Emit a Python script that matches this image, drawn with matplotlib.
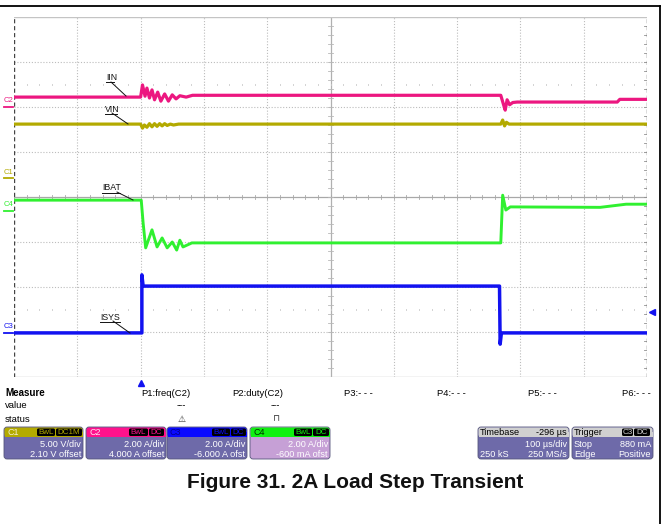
import matplotlib
matplotlib.use("Agg")
import matplotlib.pyplot as plt
from matplotlib.patches import FancyBboxPatch, Rectangle
import numpy as np

W, H = 666, 524

# ---------------- data: time in µs (100 µs/div), level in screen divisions ----------------
iin_t = [0, 200, 203, 207, 210, 214, 218, 222, 227, 232, 238, 244, 250, 256, 262, 272, 282,
         769, 773, 776, 779, 783, 788, 795, 953, 957, 1000]
iin_y = [6.22, 6.22, 6.49, 6.24, 6.42, 6.20, 6.38, 6.16, 6.33, 6.13, 6.29, 6.13, 6.27, 6.18, 6.25, 6.22, 6.26,
         6.26, 6.07, 5.93, 6.16, 6.05, 6.10, 6.11, 6.11, 6.17, 6.17]

vin_t = [0, 200, 203, 206, 210, 214, 218, 222, 226, 230, 234, 238, 242, 247, 252, 260,
         769, 772, 775, 778, 782, 1000]
vin_y = [5.62, 5.62, 5.53, 5.60, 5.55, 5.63, 5.56, 5.63, 5.57, 5.63, 5.58, 5.63, 5.59, 5.62, 5.60, 5.62,
         5.62, 5.71, 5.58, 5.66, 5.62, 5.62]

ibat_t = [0, 201, 204, 208, 218, 226, 234, 242, 250, 257, 262, 267, 281,
          769, 772, 777, 784, 926, 967, 1000]
ibat_y = [3.93, 3.93, 3.42, 2.87, 3.27, 2.89, 3.09, 2.87, 3.00, 2.82, 3.04, 2.89, 2.98,
          2.98, 4.04, 3.71, 3.78, 3.77, 3.84, 3.84]

isys_t = [0, 202, 202, 204, 767, 768, 770, 1000]
isys_y = [0.98, 0.98, 2.27, 2.02, 2.02, 0.73, 0.98, 0.98]

# channel settings panel
ch_names = ["C1", "C2", "C3", "C4"]
ch_coupling = ["DC1M", "DC", "DC", "DC"]
ch_scale = ["5.00 V/div", "2.00 A/div", "2.00 A/div", "2.00 A/div"]
ch_offset = ["2.10 V offset", "4.000 A offset", "-6.000 A ofst", "-600 mA ofst"]
meas_labels = ["P1:freq(C2)", "P2:duty(C2)", "P3:- - -", "P4:- - -", "P5:- - -", "P6:- - -"]

PINK = "#ec1780"
OLIVE = "#b3aa00"
GREEN = "#30f030"
BLUE = "#1212f0"
BODY = "#6e6aa9"
C4BODY = "#c6a0d6"
FONT = "Liberation Sans"

fig = plt.figure(figsize=(W / 100, H / 100), dpi=100)
PL, PT, PR, PB = 14, 17, 647, 377
ax = fig.add_axes([PL / W, 1 - PB / H, (PR - PL) / W, (PB - PT) / H])
ax.set_xlim(0, 1000)
ax.set_ylim(0, 8)
ax.axis("off")

# graticule
gcol = "#bcbcbc"
for x in range(100, 1000, 100):
    if x == 500:
        ax.plot([x, x], [0, 8], color="#b0b0b0", lw=0.9, zorder=1)
    else:
        ax.plot([x, x], [0, 8], color=gcol, lw=0.8, ls=(0, (1, 1.6)), zorder=1)
for y in range(1, 8):
    if y == 4:
        ax.plot([0, 1000], [y, y], color="#a8a8a8", lw=0.9, zorder=1)
    else:
        ax.plot([0, 1000], [y, y], color=gcol, lw=0.8, ls=(0, (1, 1.6)), zorder=1)
for t in range(0, 1001, 20):
    ax.plot([t, t], [4 - 0.05, 4 + 0.05], color="#a8a8a8", lw=0.6, zorder=1)
    ax.plot([t, t], [6.48, 6.52], color="#c8c8c8", lw=0.6, zorder=1)
    ax.plot([t, t], [1.48, 1.52], color="#c8c8c8", lw=0.6, zorder=1)
for y in np.arange(0, 8.01, 0.2):
    ax.plot([500 - 4, 500 + 4], [y, y], color="#b8b8b8", lw=0.6, zorder=1)
    ax.plot([1000 - 5, 1000], [y, y], color="#909090", lw=0.6, zorder=1)
ax.plot([0, 1000], [8, 8], color="#c4c4c4", lw=1.0, zorder=1)
ax.plot([0, 1000], [0, 0], color="#c4c4c4", lw=1.0, zorder=1)
ax.plot([0, 0], [0, 8], color="#444444", lw=1.0, ls=(0, (3, 2)), zorder=1)
ax.plot([1000, 1000], [0, 8], color="#555555", lw=1.0, ls=(0, (3, 2)), zorder=1)

# traces
ax.plot(vin_t, vin_y, color=OLIVE, lw=2.3, zorder=3)
ax.plot(iin_t, iin_y, color=PINK, lw=2.3, zorder=3)
ax.plot(ibat_t, ibat_y, color=GREEN, lw=2.1, zorder=3)
ax.plot(isys_t, isys_y, color=BLUE, lw=2.5, zorder=3)

# overlay in pixel coordinates
ov = fig.add_axes([0, 0, 1, 1])
ov.set_xlim(0, W)
ov.set_ylim(H, 0)
ov.axis("off")
ov.patch.set_alpha(0)

ov.plot([0, 660], [6, 6], color="black", lw=1.3)
ov.plot([660, 660], [6, 524], color="black", lw=1.3)

# channel ground markers
for name, ty, ly, col in [("C2", 100, 107, PINK), ("C1", 172, 178, OLIVE),
                          ("C4", 205, 211, GREEN), ("C3", 326, 333, BLUE)]:
    ov.text(8, ty, name, color=col, fontsize=5.5, ha="center", va="center", family=FONT)
    ov.plot([4, 13], [ly, ly], color=col, lw=1.3)

# trace labels with leaders
for txt, x, y, ux2, lx1, ly1, lx2, ly2 in [("IIN", 106, 77, 114, 111, 82, 126, 96),
                                           ("VIN", 105, 109, 117, 112, 113, 128, 124),
                                           ("IBAT", 102, 188, 120, 117, 192, 133, 200),
                                           ("ISYS", 100, 317, 120, 113, 321, 130, 333)]:
    ov.text(x, y, txt, fontsize=6.3, ha="left", va="center", family=FONT, color="#111111")
    ov.plot([x, ux2], [y + 4.5, y + 4.5], color="#111111", lw=0.7)
    ov.plot([lx1, lx2], [ly1, ly2], color="#111111", lw=0.7)

# trigger markers
ov.plot([141], [382.5], marker="^", color=BLUE, markersize=4.5, clip_on=False)
ov.plot([652], [312], marker="<", color=BLUE, markersize=4.5, clip_on=False)

# measure rows
ov.text(5, 393, "Measure", fontsize=7, fontweight="bold", family=FONT, va="center")
ov.text(5, 406, "value", fontsize=6.8, family=FONT, va="center")
ov.text(5, 419, "status", fontsize=6.8, family=FONT, va="center")
for lab, x in zip(meas_labels, [141, 232, 344, 437, 528, 622]):
    ov.text(x, 393, lab, fontsize=6.8, family=FONT, va="center")
ov.text(186, 406, "---", fontsize=6.8, family=FONT, va="center", ha="right")
ov.text(280, 406, "---", fontsize=6.8, family=FONT, va="center", ha="right")
ov.text(182, 419, "\u26a0", fontsize=6.5, family="DejaVu Sans", va="center", ha="center", color="#333333")
ov.text(276, 419, "\u2293", fontsize=6.5, family="DejaVu Sans", va="center", ha="center", color="#333333")


def box(x0, x1, hcol, bcol):
    y0, y1 = 427, 459
    ov.add_patch(FancyBboxPatch((x0, y0), x1 - x0, y1 - y0,
                                boxstyle="round,pad=0,rounding_size=3",
                                fc=bcol, ec="#55557a", lw=0.6))
    ov.add_patch(FancyBboxPatch((x0 + 0.5, y0 + 0.5), x1 - x0 - 1, 9.5,
                                boxstyle="round,pad=0,rounding_size=2.5",
                                fc=hcol, ec="none"))
    ov.add_patch(Rectangle((x0 + 0.5, y0 + 5), x1 - x0 - 1, 5, fc=hcol, ec="none"))


def badge(x0, x1, txt, col):
    ov.add_patch(FancyBboxPatch((x0, 428.5), x1 - x0, 7.5,
                                boxstyle="round,pad=0,rounding_size=1.5",
                                fc="black", ec="none"))
    ov.text((x0 + x1) / 2, 432.5, txt, color=col, fontsize=5.8, family=FONT,
            ha="center", va="center")


ch_boxes = [(4, 83), (86, 166), (167, 247), (250, 330)]
ch_head = [OLIVE, "#ff128c", "#0a0aff", "#10f010"]
ch_body = [BODY, BODY, BODY, C4BODY]
ch_namecol = ["#f4f0d0", "#ffe0f0", "#000090", "#003000"]
ch_badges = [((37, 55), (56, 82)), ((129, 148), (149, 164)), ((212, 230), (231, 246)), ((294, 312), (313, 329))]
for i in range(4):
    x0, x1 = ch_boxes[i]
    box(x0, x1, ch_head[i], ch_body[i])
    ov.text(x0 + 3, 432.5, ch_names[i], color=ch_namecol[i], fontsize=6.5, family=FONT, va="center")
    (b1, b2) = ch_badges[i]
    badge(b1[0], b1[1], "BwL", ch_head[i])
    badge(b2[0], b2[1], ch_coupling[i], ch_head[i])
    ov.text(x1 - 2, 444.5, ch_scale[i], color="white", fontsize=6.6, family=FONT, va="center", ha="right")
    ov.text(x1 - 2, 454.5, ch_offset[i], color="white", fontsize=6.6, family=FONT, va="center", ha="right")

# timebase / trigger
box(478, 569, "#d0d0d0", BODY)
ov.text(480, 432.5, "Timebase", fontsize=6.6, family=FONT, va="center")
ov.text(567, 432.5, "-296 \u00b5s", fontsize=6.6, family=FONT, va="center", ha="right")
ov.text(567, 444.5, "100 \u00b5s/div", fontsize=6.6, family=FONT, va="center", ha="right", color="white")
ov.text(480, 454.5, "250 kS", fontsize=6.6, family=FONT, va="center", color="white")
ov.text(567, 454.5, "250 MS/s", fontsize=6.6, family=FONT, va="center", ha="right", color="white")

box(572, 653, "#d0d0d0", BODY)
ov.text(574, 432.5, "Trigger", fontsize=6.6, family=FONT, va="center")
badge(622, 633, "C3", "#d0d0d0")
badge(634, 650, "DC", "#d0d0d0")
ov.text(574, 444.5, "Stop", fontsize=6.6, family=FONT, va="center", color="white")
ov.text(651, 444.5, "880 mA", fontsize=6.6, family=FONT, va="center", ha="right", color="white")
ov.text(574, 454.5, "Edge", fontsize=6.6, family=FONT, va="center", color="white")
ov.text(651, 454.5, "Positive", fontsize=6.6, family=FONT, va="center", ha="right", color="white")

# caption
ov.text(355, 483, "Figure 31. 2A Load Step Transient", fontsize=15, fontweight="bold",
        family=FONT, ha="center", va="center", color="#111111")

fig.savefig("out.png", dpi=100)
